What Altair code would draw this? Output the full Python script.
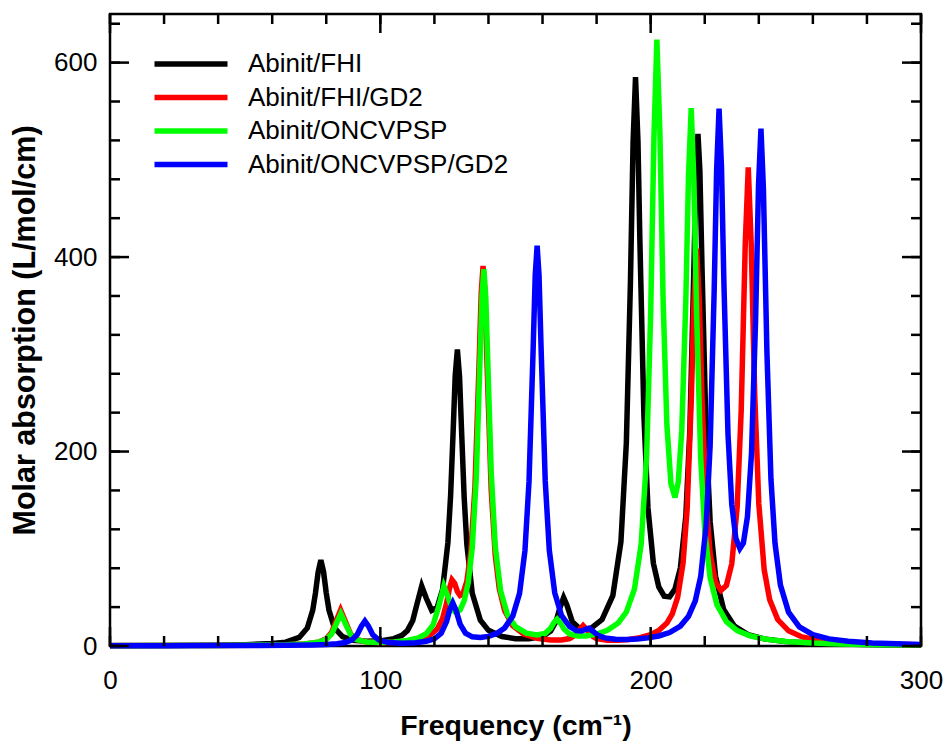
import altair as alt
import pandas as pd

# ---------------- data ----------------
series_names = ["Abinit/FHI", "Abinit/FHI/GD2", "Abinit/ONCVPSP", "Abinit/ONCVPSP/GD2"]
series_colors = ["#000000", "#ff0000", "#00ff00", "#0000ff"]

fhi_freq = [0, 20, 40, 50, 60, 65, 70, 73, 75, 76, 77, 78, 79, 80, 81, 83, 86, 90, 95, 100,
            105, 108, 110, 112, 113.5, 115.3, 117, 119, 121, 123, 125, 126, 127, 127.7, 128.5, 129.3, 130, 131, 132, 134,
            137, 140, 145, 150, 155, 160, 163, 165, 166.5, 167.8, 169, 171, 174, 178, 182, 186, 189, 191, 192.5, 193.5,
            194.4, 195.3, 196, 197.5, 199, 201, 203, 205, 207, 209, 211, 213, 214.5, 216, 216.8, 217.5, 218.2, 219, 220.5, 222,
            224, 227, 231, 236, 242, 250, 260, 270, 285, 300]
fhi_abs = [0.4, 0.6, 0.9, 1.4, 2.5, 4.0, 8.8, 18.5, 36.9, 54.3, 76.2, 88.2, 76.3, 54.4, 37.0, 18.7, 9.6, 5.9, 4.9, 5.3,
           7.6, 11.0, 15.8, 26.3, 42.5, 61.7, 49.1, 36.6, 39.6, 57.9, 106.5, 155, 225.6, 278, 305, 277, 225, 153.7, 104.6, 54.2,
           26.5, 16.1, 9.7, 7.5, 7.4, 9.8, 15.3, 25.3, 39.9, 49.7, 42.2, 25.0, 17.2, 18.4, 27.2, 51.7, 107.2, 208.7, 372, 518.5,
           585, 519, 418, 237, 142, 85, 60.8, 51.2, 50.5, 58.6, 80.4, 133.4, 222.4, 390, 490, 526.6, 489, 388.4, 218.8, 127.8,
           71.6, 37.5, 20.4, 11.7, 7.3, 4.5, 2.8, 2.0, 1.25, 0.9]

gd2_freq = [0, 20, 40, 55, 65, 72, 77, 80, 82, 83.5, 85.3, 87, 89, 91, 95, 100, 105, 110, 115, 118,
            121, 123, 124.5, 125.5, 126.5, 127.5, 128.5, 129.5, 130.5, 132, 133.5, 135, 136.5, 137.3, 138, 138.7, 139.5, 141, 142.5, 144,
            146, 149, 153, 158, 163, 167, 170, 172, 173.5, 175, 176.5, 178, 180, 184, 188, 192, 196, 200, 203, 206,
            208, 210, 212, 213.5, 215, 216, 217, 218, 219, 220.5, 222, 224, 226, 228, 230, 232, 233.5, 235, 236.1, 237.2,
            238.5, 240, 242, 244, 247, 251, 256, 262, 270, 280, 290, 300]
gd2_abs = [0.3, 0.4, 0.56, 0.83, 1.3, 2.1, 3.95, 7.55, 14.1, 24.7, 37, 25.6, 12.3, 6.85, 4.1, 3.4, 3.76, 4.85, 7.3, 10.5,
           17.3, 27.9, 43.9, 58.5, 68, 64.4, 56.1, 51.9, 53.3, 66.5, 97.8, 163.5, 288.4, 362.5, 390.8, 362.2, 287.3, 161, 93.4, 59,
           36.3, 20.8, 12.2, 7.9, 6.2, 6.2, 7.65, 11.1, 16.5, 21, 16.5, 11, 7.6, 5.8, 5.8, 6.7, 8.5, 11.6, 15.9, 23.6,
           33.1, 50.3, 85.8, 141.4, 251.3, 353, 408.7, 354.7, 254.8, 147.6, 95.3, 65.6, 57.2, 62.3, 84.5, 142.8, 242.5, 414.5, 492.2, 412.9,
           258.2, 146.4, 78.3, 47.8, 27.2, 15.6, 9.3, 5.9, 3.6, 2.3, 1.6, 1.2]

onc_freq = [0, 20, 40, 55, 65, 72, 77, 80, 82, 83.5, 85.4, 87.2, 89, 91, 95, 100, 105, 110, 114, 117,
            119.5, 121.5, 123.5, 125, 126.5, 128, 129.5, 131, 132.5, 134, 135.5, 137, 137.6, 138.3, 139, 139.6, 141, 142.5, 144.5, 147,
            150, 154, 158, 161, 163, 164.2, 165.4, 166.6, 168, 170, 173, 176, 180, 184, 188, 191, 194, 196.5, 198.5, 200,
            201.2, 202.3, 203.4, 204.6, 206, 207.5, 209, 210.2, 211.5, 213, 214, 215, 216, 217, 218.5, 220, 222, 224.5, 228, 232,
            237, 243, 250, 260, 270, 285, 300]
onc_abs = [0.34, 0.45, 0.64, 0.93, 1.36, 2.13, 3.8, 6.85, 12.4, 21.5, 33.2, 22.3, 11.7, 6.6, 4.2, 3.7, 4.2, 5.7, 8.2, 12.6,
           21.6, 39.7, 61.6, 50.8, 38, 34.2, 37.2, 46.4, 64.9, 101, 174, 305.7, 359.5, 387.5, 359.3, 305.3, 179.8, 102.8, 56.6, 32.2,
           19.9, 13.2, 11.3, 13, 18.2, 24, 27.6, 23.9, 17.2, 12.4, 10.3, 10.4, 12.3, 16.1, 23.7, 34.9, 58.5, 104.9, 194.8, 341.7,
           522.6, 623.6, 529.3, 356.3, 227.3, 166.9, 152.8, 168.5, 221.2, 355.2, 483.9, 553.2, 477, 340.8, 193.6, 118.4, 70.1, 42.4, 25.1, 15.9,
           10.3, 6.8, 4.65, 3.0, 2.1, 1.4, 1.0]

oncgd2_freq = [0, 20, 40, 55, 65, 75, 80, 84, 87, 89.5, 91.5, 93, 94.3, 95.6, 97.2, 99.5, 103, 108, 113, 117,
               120, 122.5, 124.5, 125.7, 126.8, 128, 129.5, 131.5, 134, 137, 140, 143, 146, 149, 151.5, 153.5, 155, 156.5, 157.3, 158,
               158.7, 159.5, 161, 162.5, 164.5, 167, 170, 172.5, 174.5, 176, 177.2, 178.5, 180.5, 183, 187, 191, 195, 199, 203, 207,
               211, 214, 216.5, 218.5, 220.5, 222, 223.5, 224.4, 225.3, 226.2, 227.1, 228.6, 230, 231.5, 233, 234.3, 235.8, 237.3, 238.8, 239.9,
               240.8, 241.7, 243, 244.5, 246, 248, 251, 255, 260, 266, 273, 282, 291, 300]
oncgd2_abs = [0.26, 0.33, 0.45, 0.6, 0.77, 1.14, 1.59, 2.3, 3.56, 6.25, 12, 20.4, 25.6, 20.5, 11.6, 6.06, 3.55, 2.9, 3.4, 4.8,
              7.4, 13.1, 25.1, 37.5, 44.2, 36.7, 22.6, 13.2, 9.4, 8.65, 9.9, 12.9, 18.6, 30.9, 54.1, 98.2, 169.3, 302.8, 381.5, 411.6,
              381.5, 303.2, 169.8, 98.6, 54.8, 31.6, 20, 15.8, 15.4, 17.2, 18.2, 15.5, 10.9, 8.3, 7.0, 6.8, 7.3, 8.35, 10.3, 13.8,
              20.5, 30.5, 46.5, 71.3, 123.4, 206.2, 366.2, 489.4, 552.8, 492.4, 372.3, 218, 145.8, 110.8, 100.2, 105.9, 133, 198, 334.4, 474.3,
              532.1, 471, 302.8, 171.5, 105.5, 62.6, 34.8, 19.7, 11.75, 7.3, 4.8, 3.15, 2.2, 1.65]

x_ticks_minor = list(range(0, 301, 20))
x_ticks_major = [0, 100, 200, 300]
y_ticks_minor = list(range(0, 641, 40))
y_ticks_major = [0, 200, 400, 600]

# ---------------- build table ----------------
rows = []
for name, xs, ys in zip(series_names,
                        [fhi_freq, gd2_freq, onc_freq, oncgd2_freq],
                        [fhi_abs, gd2_abs, onc_abs, oncgd2_abs]):
    for i, (xv, yv) in enumerate(zip(xs, ys)):
        rows.append({"series": name, "freq": xv, "absorb": yv, "idx": i})
df = pd.DataFrame(rows)

W, H = 811, 632
FONT = "Liberation Sans"
xscale = alt.Scale(domain=[0, 300], nice=False, zero=False)
yscale = alt.Scale(domain=[0, 650], nice=False, zero=False)

x_axis = alt.Axis(values=x_ticks_major, format="d", ticks=False, domain=False, grid=False,
                  labelFontSize=26, labelFont=FONT, labelColor="black", labelPadding=21,
                  labelFlush=False, labelOverlap=False,
                  title="Frequency (cm\u207b\u00b9)", titleFontSize=28.5, titleFont=FONT,
                  titleFontWeight="bold", titleColor="black", titlePadding=18)
y_axis = alt.Axis(values=y_ticks_major, format="d", ticks=False, domain=False, grid=False,
                  labelFontSize=26, labelFont=FONT, labelColor="black", labelPadding=13,
                  labelFlush=False, labelOverlap=False,
                  title="Molar absorption (L/mol/cm)", titleFontSize=30.5, titleFont=FONT,
                  titleFontWeight="bold", titleColor="black", titlePadding=13)

lines = alt.Chart(df).mark_line(strokeWidth=5.5).encode(
    x=alt.X("freq:Q", scale=xscale, axis=x_axis),
    y=alt.Y("absorb:Q", scale=yscale, axis=y_axis),
    color=alt.Color("series:N",
                    scale=alt.Scale(domain=series_names, range=series_colors),
                    legend=alt.Legend(title=None, orient="none", legendX=66, legendY=35,
                                      symbolType="M-3,0H3", symbolSize=592, symbolStrokeWidth=5.5,
                                      labelFontSize=26, labelFont=FONT, labelColor="black",
                                      labelOffset=42, rowPadding=5.5, padding=0, labelLimit=500)),
    order=alt.Order("idx:Q"),
)

layers = [lines]
for vals, length in [(x_ticks_minor, 10), (x_ticks_major, 19)]:
    d = pd.DataFrame({"freq": vals})
    base = alt.Chart(d).mark_rule(color="black", strokeWidth=2.5)
    layers.append(base.encode(x=alt.X("freq:Q", scale=xscale, axis=x_axis),
                              y=alt.value(H), y2=alt.value(H - length)))
    layers.append(base.encode(x=alt.X("freq:Q", scale=xscale, axis=x_axis),
                              y=alt.value(0), y2=alt.value(length)))
for vals, length in [(y_ticks_minor, 10), (y_ticks_major, 19)]:
    d = pd.DataFrame({"absorb": vals})
    base = alt.Chart(d).mark_rule(color="black", strokeWidth=2.5)
    layers.append(base.encode(y=alt.Y("absorb:Q", scale=yscale, axis=y_axis),
                              x=alt.value(0), x2=alt.value(length)))
    layers.append(base.encode(y=alt.Y("absorb:Q", scale=yscale, axis=y_axis),
                              x=alt.value(W), x2=alt.value(W - length)))

chart = alt.layer(*layers).properties(
    width=W, height=H,
    padding={"left": 110, "top": 14, "right": 25, "bottom": 102},
    autosize=alt.AutoSizeParams(type="none"),
    background="white",
).configure_view(
    stroke="black", strokeWidth=2.5
)

chart.save("out.html", embed_options={"renderer": "svg", "actions": False})
